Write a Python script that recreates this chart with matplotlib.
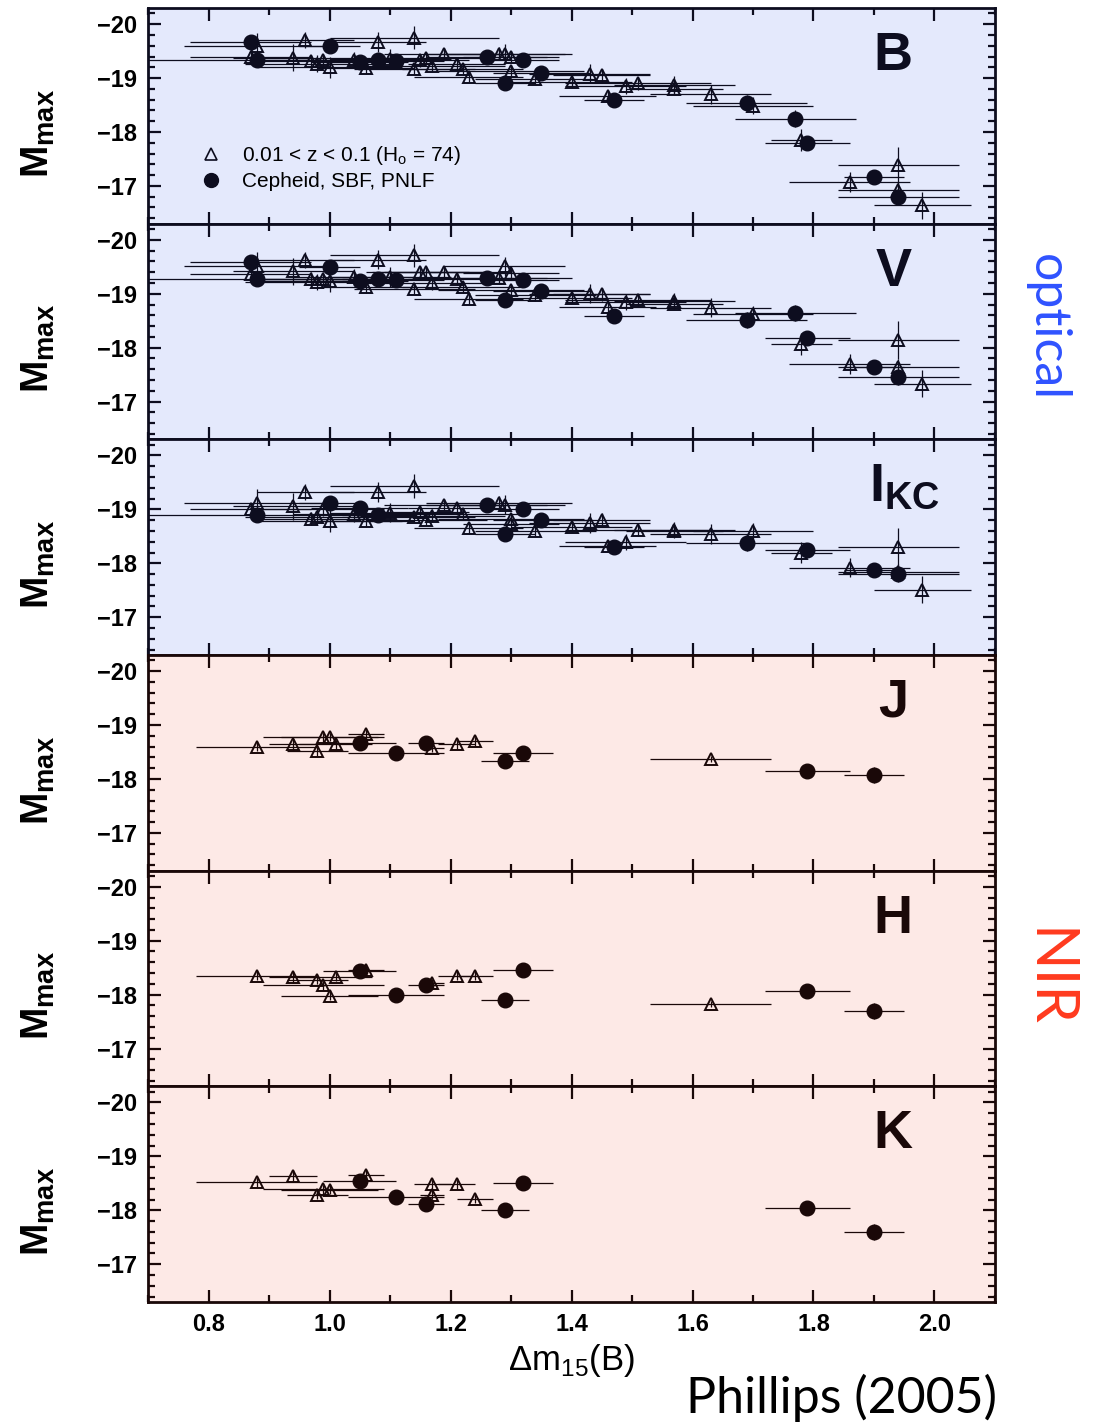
import numpy as np
import matplotlib.pyplot as plt
from matplotlib.lines import Line2D
from matplotlib.ticker import MultipleLocator

plt.rcParams['font.family'] = ['Liberation Sans', 'DejaVu Sans']
plt.rcParams['mathtext.fontset'] = 'custom'
plt.rcParams['mathtext.rm'] = 'Liberation Sans'
plt.rcParams['mathtext.bf'] = 'Liberation Sans:bold'

nan = np.nan

# optical bands: Hubble-flow SNe (0.01<z<0.1), same dm15 in B, V, I
tri_x = [0.87, 0.88, 0.94, 0.96, 0.97, 0.98, 0.99, 1.00, 1.04, 1.06, 1.08, 1.10, 1.14, 1.14,
         1.15, 1.16, 1.17, 1.19, 1.21, 1.22, 1.23, 1.28, 1.29, 1.30, 1.30, 1.34, 1.40, 1.43,
         1.45, 1.46, 1.49, 1.51, 1.57, 1.57, 1.63, 1.70, 1.78, 1.86, 1.94, 1.94, 1.98]
tri_xerr = [0.10, 0.12, 0.10, 0.08, 0.10, 0.12, 0.10, 0.12, 0.10, 0.08, 0.08, 0.10, 0.14, 0.10,
            0.08, 0.10, 0.12, 0.10, 0.08, 0.10, 0.09, 0.12, 0.10, 0.08, 0.12, 0.10, 0.10, 0.10,
            0.08, 0.08, 0.10, 0.12, 0.10, 0.08, 0.10, 0.10, 0.05, 0.10, 0.10, 0.10, 0.08]
tri_yerr = [0.12, 0.25, 0.25, 0.15, 0.12, 0.15, 0.12, 0.20, 0.15, 0.10, 0.18, 0.18, 0.22, 0.10,
            0.12, 0.10, 0.12, 0.10, 0.12, 0.10, 0.10, 0.12, 0.18, 0.10, 0.10, 0.10, 0.10, 0.18,
            0.12, 0.10, 0.15, 0.12, 0.15, 0.10, 0.18, 0.15, 0.20, 0.18, 0.35, 0.15, 0.25]
tri_B = [-19.40, -19.59, -19.38, -19.70, -19.31, -19.27, -19.33, -19.20, -19.33, -19.19, -19.67,
         -19.36, -19.75, -19.17, -19.33, -19.38, -19.23, -19.45, -19.27, -19.17, -19.02, -19.45,
         -19.45, -19.40, -19.14, -18.99, -18.93, -19.08, -19.05, -18.66, -18.85, -18.90, -18.88,
         -18.80, -18.70, -18.49, -17.85, -17.07, -17.38, -16.93, -16.64]
tri_V = [-19.37, -19.52, -19.42, -19.62, -19.28, -19.22, -19.28, -19.24, -19.31, -19.12, -19.63,
         -19.31, -19.71, -19.09, -19.40, -19.40, -19.19, -19.40, -19.28, -19.12, -18.91, -19.30,
         -19.51, -19.38, -19.06, -18.97, -18.93, -19.00, -18.99, -18.75, -18.85, -18.88, -18.87,
         -18.81, -18.74, -18.63, -18.07, -17.70, -18.14, -17.64, -17.33]
tri_I = [-19.00, -19.12, -19.06, -19.32, -18.83, -18.86, -19.00, -18.78, -18.91, -18.78, -19.32,
         -18.94, -19.43, -18.86, -18.96, -18.81, -18.88, -19.09, -19.02, -18.91, -18.66, -19.12,
         -19.09, -18.72, -18.82, -18.60, -18.68, -18.75, -18.81, -18.33, -18.39, -18.62, -18.62,
         -18.60, -18.54, -18.60, -18.20, -17.92, -18.31, -17.83, -17.51]

# optical bands: Cepheid / SBF / PNLF distances
cir_x = [0.87, 0.88, 1.00, 1.05, 1.08, 1.11, 1.26, 1.29, 1.32, 1.35, 1.47, 1.69, 1.77, 1.79, 1.90, 1.94]
cir_xerr = [0.10, 0.18, 0.05, 0.08, 0.06, 0.08, 0.10, 0.05, 0.06, 0.08, 0.05, 0.10, 0.10, 0.07, 0.05, 0.10]
cir_yerr = [0.08, 0.10, 0.08, 0.10, 0.08, 0.08, 0.10, 0.08, 0.10, 0.08, 0.08, 0.15, 0.15, 0.12, 0.12, 0.15]
cir_B = [-19.67, -19.34, -19.59, -19.30, -19.34, -19.31, -19.39, -18.91, -19.33, -19.09, -18.60,
         -18.54, -18.25, -17.80, -17.17, -16.80]
cir_V = [-19.59, -19.28, -19.49, -19.24, -19.28, -19.26, -19.29, -18.89, -19.25, -19.05, -18.58,
         -18.52, -18.64, -18.17, -17.65, -17.46]
cir_I = [nan, -18.89, -19.11, -19.03, -18.89, nan, -19.08, -18.54, -19.00, -18.81, -18.31,
         -18.37, nan, -18.24, -17.88, -17.81]

# near-infrared bands
nir_tx = [0.88, 0.94, 0.98, 0.99, 1.00, 1.01, 1.06, 1.17, 1.21, 1.24, 1.63]
nir_txerr = [0.10, 0.04, 0.05, 0.10, 0.08, 0.06, 0.03, 0.02, 0.03, 0.03, 0.10]
nir_tyerr = [0.08, 0.10, 0.08, 0.08, 0.08, 0.08, 0.08, 0.08, 0.08, 0.08, 0.06]
tri_J = [-18.60, -18.64, -18.51, -18.77, -18.78, -18.64, -18.83, -18.58, -18.64, -18.70, -18.37]
tri_H = [-18.35, -18.32, -18.27, -18.17, -17.98, -18.33, -18.46, -18.21, -18.35, -18.35, -17.83]
k_tx = [0.88, 0.94, 0.98, 0.99, 1.00, 1.06, 1.17, 1.17, 1.21, 1.24]
k_txerr = [0.10, 0.04, 0.05, 0.10, 0.08, 0.03, 0.03, 0.02, 0.03, 0.03]
k_tyerr = [0.08, 0.10, 0.08, 0.08, 0.08, 0.08, 0.08, 0.08, 0.08, 0.08]
tri_K = [-18.52, -18.64, -18.29, -18.39, -18.38, -18.66, -18.48, -18.29, -18.48, -18.21]

nir_cx = [1.05, 1.11, 1.16, 1.29, 1.32, 1.79, 1.90]
nir_cxerr = [0.06, 0.08, 0.03, 0.04, 0.05, 0.07, 0.05]
nir_cyerr = [0.08, 0.05, 0.12, 0.05, 0.10, 0.05, 0.15]
cir_J = [-18.66, -18.49, -18.66, -18.33, -18.48, -18.15, -18.07]
cir_H = [-18.43, -18.00, -18.17, -17.90, -18.46, -18.06, -17.70]
cir_K = [-18.55, -18.24, -18.12, -18.01, -18.51, -18.04, -17.60]

opt_bg, nir_bg = '#e4e9fc', '#fde9e6'
opt_c, nir_c = '#0d0d1f', '#1a0808'

panels = [
    ('B', opt_bg, opt_c, tri_x, tri_B, tri_xerr, tri_yerr, cir_x, cir_B, cir_xerr, cir_yerr),
    ('V', opt_bg, opt_c, tri_x, tri_V, tri_xerr, tri_yerr, cir_x, cir_V, cir_xerr, cir_yerr),
    (r'$\mathbf{I}_{\mathbf{KC}}$', opt_bg, opt_c, tri_x, tri_I, tri_xerr, tri_yerr, cir_x, cir_I, cir_xerr, cir_yerr),
    ('J', nir_bg, nir_c, nir_tx, tri_J, nir_txerr, nir_tyerr, nir_cx, cir_J, nir_cxerr, nir_cyerr),
    ('H', nir_bg, nir_c, nir_tx, tri_H, nir_txerr, nir_tyerr, nir_cx, cir_H, nir_cxerr, nir_cyerr),
    ('K', nir_bg, nir_c, k_tx, tri_K, k_txerr, k_tyerr, nir_cx, cir_K, nir_cxerr, nir_cyerr),
]

fig = plt.figure(figsize=(10.94, 14.26), dpi=100)
axes = fig.subplots(6, 1, sharex=True, gridspec_kw=dict(hspace=0))
fig.subplots_adjust(left=0.1353, right=0.9095, top=0.9944, bottom=0.087)

for i, (name, bg, c, tx, ty, txe, tye, cx, cy, cxe, cye) in enumerate(panels):
    ax = axes[i]
    ax.set_facecolor(bg)
    ax.errorbar(tx, ty, xerr=txe, yerr=tye, fmt='^', ms=9, mfc='none', mec=c, mew=1.4,
                ecolor=c, elinewidth=0.9, capsize=0)
    ax.errorbar(cx, cy, xerr=cxe, yerr=cye, fmt='o', ms=10.5, mfc=c, mec=c,
                ecolor=c, elinewidth=0.9, capsize=0)
    ax.set_xlim(0.7, 2.1)
    ax.set_ylim(-16.3, -20.3)
    ax.yaxis.set_major_locator(MultipleLocator(1))
    ax.yaxis.set_minor_locator(MultipleLocator(0.2))
    ax.xaxis.set_major_locator(MultipleLocator(0.2))
    ax.xaxis.set_minor_locator(MultipleLocator(0.1))
    ax.tick_params(which='both', direction='in', top=True, right=True, width=1.6, color=c)
    ax.tick_params(which='major', length=9, labelsize=17, pad=8)
    ax.tick_params(which='minor', length=5)
    for lab in ax.get_xticklabels() + ax.get_yticklabels():
        lab.set_fontweight('bold')
    for sp in ax.spines.values():
        sp.set_linewidth(2)
        sp.set_color(c)
    ax.set_ylabel(r'$\mathbf{M}_{\mathbf{max}}$', fontsize=28)
    ax.yaxis.set_label_coords(-0.107, 0.42)
    xpos = 0.893 if i == 2 else 0.880
    ax.text(xpos, 0.713, name, transform=ax.transAxes, ha='center', va='baseline',
            fontsize=39, fontweight='bold', color=c)

handles = [Line2D([], [], ls='none', marker='^', ms=9, mfc='none', mec=opt_c, mew=1.2),
           Line2D([], [], ls='none', marker='o', ms=10, mfc=opt_c, mec=opt_c)]
axes[0].legend(handles, ['0.01 < z < 0.1 (H$_\\mathrm{o}$ = 74)', 'Cepheid, SBF, PNLF'],
               loc='upper left', bbox_to_anchor=(0.062, 0.37), frameon=False, fontsize=15,
               handlelength=1.0, handletextpad=1.0, borderpad=0, borderaxespad=0,
               labelspacing=0.25)

axes[-1].set_xlabel(r'$\Delta$m$_{15}$(B)', fontsize=25, labelpad=4)

fig.text(1047 / 1094, 1 - 327 / 1426, 'optical', rotation=-90, color='#2f52ff', fontsize=36,
         family='Lato', fontweight='normal', ha='center', va='center')
fig.text(1047 / 1094, 1 - 978 / 1426, 'NIR', rotation=-90, color='#ff3a1e', fontsize=43,
         family='Lato', fontweight='normal', ha='center', va='center')
fig.text(997 / 1094, 1 - 1413 / 1426, 'Phillips (2005)', color='black', fontsize=36,
         family='Lato', fontweight='normal', ha='right', va='baseline')

fig.savefig('out.png', dpi=100)
